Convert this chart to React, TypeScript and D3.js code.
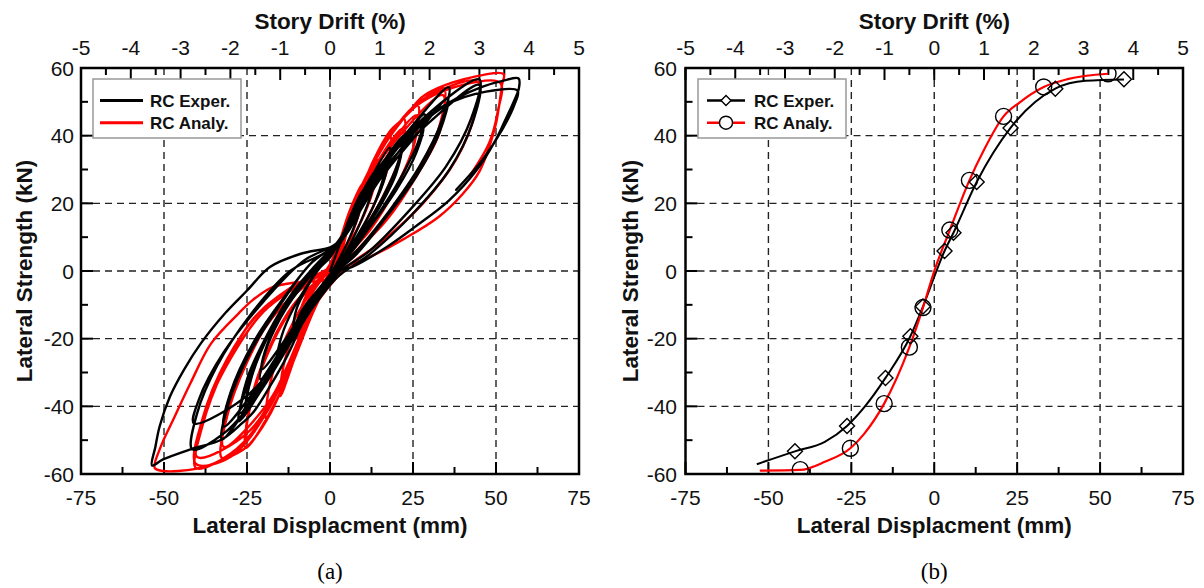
import React from 'react';
import * as d3 from 'd3';

// ---------- axis ticks ----------
const dispTicks = [-75, -50, -25, 0, 25, 50, 75];
const dispMinor = [-62.5, -37.5, -12.5, 12.5, 37.5, 62.5];
const forceTicks = [-60, -40, -20, 0, 20, 40, 60];
const forceMinor = [-50, -30, -10, 10, 30, 50];
const driftTicks = [-5, -4, -3, -2, -1, 0, 1, 2, 3, 4, 5];
const driftMinor = [-4.5, -3.5, -2.5, -1.5, -0.5, 0.5, 1.5, 2.5, 3.5, 4.5];
const gridDisp = [-50, -25, 0, 25, 50];
const gridForce = [-40, -20, 0, 20, 40];

// ---------- panel (a): hysteresis cycles [disp mm, force kN] ----------
const expCycles: [number, number][][] = [
  [[0, 0], [3, 8], [6, 16], [10, 24], [9, 18], [6, 10], [3, 4], [0, -1], [-4, -6], [-8, -11], [-11, -16.5], [-10, -11], [-7, -5], [-3, 1], [0, 4]],
  [[3, 9], [8, 20], [14, 30], [12.5, 23], [9, 14], [5, 6], [1, 0], [-3, -5], [-9, -14], [-13, -21], [-16, -26], [-14.5, -19], [-11, -11], [-6, -3], [-2, 3], [1, 6]],
  [[4, 10], [10, 23], [18, 36.5], [16.5, 29], [13, 19], [8, 10], [3, 2], [-1, -3], [-7, -11], [-14, -22], [-21, -32], [-19.5, -24], [-15, -14], [-9, -5], [-3, 2], [1, 6]],
  [[3, 8], [9, 20], [17.5, 33], [16, 26], [12, 17], [7, 8], [2, 1], [-2, -4], [-8, -12], [-14, -21], [-20.5, -29], [-19, -22], [-14, -12], [-8, -4], [-2, 3], [1, 6]],
  [[5, 12], [12, 26], [22.3, 40], [20.5, 32], [16, 22], [10, 12], [4, 3], [-1, -3], [-8, -13], [-17, -28], [-25.4, -41], [-23.5, -31], [-18, -18], [-11, -7], [-4, 1], [1, 6]],
  [[4, 10], [11, 23], [21.5, 37], [20, 29], [15, 19], [9, 10], [3, 2], [-2, -4], [-9, -14], [-17, -27], [-25, -38], [-23, -28], [-17, -16], [-10, -5], [-3, 2], [1, 6]],
  [[5, 12], [13, 27], [21, 38], [28.5, 46.3], [26.5, 38], [21, 27], [14, 16], [6, 5], [0, -1], [-8, -14], [-18, -31], [-27.5, -44.4], [-25.5, -35], [-20, -22], [-13, -9], [-5, 1], [1, 7]],
  [[5, 11], [13, 25], [28, 43], [26, 35], [20, 24], [12, 13], [4, 3], [-1, -3], [-9, -15], [-19, -30], [-27, -42], [-25, -32], [-19, -19], [-11, -6], [-4, 2], [1, 7]],
  [[6, 14], [14, 29], [24, 42], [35.8, 54.3], [33.5, 44], [27, 31], [18, 18], [9, 7], [1, -1], [-8, -14], [-20, -33], [-32.6, -49.8], [-30.5, -39], [-24, -24], [-15, -10], [-6, 2], [2, 8]],
  [[6, 13], [15, 27], [25, 39], [35.5, 51], [33, 41], [26, 28], [17, 16], [8, 5], [0, -2], [-9, -15], [-21, -33], [-32, -46], [-30, -36], [-23, -21], [-14, -8], [-5, 3], [2, 8]],
  [[7, 17], [16, 31], [28, 45], [45, 56.6], [42.5, 45], [35, 31], [24, 18], [12, 6], [2, -1], [-8, -15], [-22, -37], [-32, -48], [-41.5, -52.7], [-40, -42], [-34, -28], [-24, -13], [-12, 0], [1, 7]],
  [[7, 16], [17, 31], [30, 44], [45, 55], [43, 44], [36, 30], [25, 17], [12, 5], [2, -2], [-9, -16], [-24, -36], [-41, -45], [-39.5, -38], [-32, -24], [-20, -9], [-8, 3], [3, 9]],
  [[8.8, 20.8], [14, 29.6], [22.3, 39.4], [30, 46], [38, 51], [46, 54.5], [52, 56.2], [56.8, 56.9], [56.9, 54], [55.4, 50.2], [52.5, 44], [49.7, 38.4], [44, 29.6], [35.8, 20.8], [25.4, 12.9], [17.1, 7.1], [6.7, 1.2], [0.5, -0.8], [-4.7, -8.6], [-8.8, -16.5], [-13, -25.3], [-18.1, -34.1], [-23.3, -42], [-26.4, -44.9], [-32.6, -49.8], [-42, -52.7], [-50.3, -55.7], [-53.6, -57.5], [-52.6, -52], [-51.3, -45.9], [-48.2, -37.1], [-44, -29.2], [-38.9, -21.4], [-31.6, -12.5], [-24.9, -5.7], [-18.1, 1.2], [-8.8, 5.1], [0, 7], [3.6, 9]],
  [[8, 20], [20, 36], [35, 49], [47, 53], [56.5, 53.3], [55.5, 49], [52, 42], [46, 33], [38, 24]],
];

const anaCycles: [number, number][][] = [
  [[0, 0], [3, 9], [6, 18], [10, 26], [9.5, 20], [7, 12], [3, 4], [0, -1], [-3, -7], [-7, -14], [-10, -20], [-9.5, -14], [-7, -7], [-3, -2], [0, 2]],
  [[3, 9], [8, 22], [14, 33], [13.5, 26], [10, 16], [5, 7], [0, 0], [-5, -11], [-10, -24], [-15, -37], [-14, -28], [-10, -16], [-5, -6], [0, 1]],
  [[3, 9], [9, 24], [18.1, 40], [17.5, 31], [13, 19], [7, 8], [1, 0], [-5, -12], [-12, -29], [-19.2, -43.9], [-18, -33], [-13, -19], [-7, -8], [-1, 0]],
  [[3, 9], [10, 26], [16, 37], [22.3, 45], [21.5, 35], [16, 22], [9, 10], [2, 1], [-6, -14], [-16, -38], [-25.4, -52.3], [-24, -40], [-19, -25], [-12, -12], [-4, -3], [1, 2]],
  [[3, 9], [10, 25], [21.8, 42], [21, 33], [15, 20], [8, 9], [1, 0], [-7, -15], [-16, -36], [-25, -49], [-23.5, -37], [-18, -22], [-11, -10], [-3, -2], [1, 2]],
  [[4, 11], [11, 28], [19, 41], [26.4, 49], [25.5, 38], [20, 25], [12, 12], [3, 2], [-6, -13], [-17, -37], [-25, -50], [-32.6, -55.2], [-31, -43], [-25, -27], [-17, -13], [-7, -4], [1, 2]],
  [[4, 10], [12, 28], [26, 46], [25, 36], [19, 23], [11, 11], [2, 1], [-7, -15], [-18, -38], [-32, -52], [-30.5, -40], [-24, -24], [-15, -11], [-6, -3], [1, 2]],
  [[5, 13], [13, 32], [22, 45], [34.2, 54.1], [33, 43], [27, 30], [18, 17], [8, 6], [0, -1], [-8, -17], [-20, -43], [-30, -54], [-40.4, -58.2], [-38.5, -46], [-32, -29], [-23, -14], [-12, -5], [0, 1]],
  [[5, 12], [14, 31], [34, 52], [33, 41], [26, 28], [17, 15], [7, 5], [-1, -2], [-10, -22], [-24, -47], [-40, -55], [-38, -43], [-30, -26], [-20, -12], [-9, -4], [1, 2]],
  [[6, 15], [15, 35], [27, 50], [44.6, 55.9], [43.5, 46], [38, 33], [28, 20], [16, 9], [5, 1], [-5, -11], [-18, -40], [-30, -55], [-40.4, -57], [-38.5, -44], [-31, -26], [-20, -11], [-8, -3], [1, 2]],
  [[3.6, 10], [7.8, 19.8], [13, 32.5], [18.1, 41.4], [22.3, 45.3], [27.5, 51.2], [32.6, 54.1], [43, 57.3], [52.3, 58.2], [51.8, 55], [50.8, 48], [49.7, 42.4], [45.1, 29.6], [39.9, 22.7], [32.6, 15.9], [22.3, 9.5], [11.9, 4.1], [3.6, 0.7], [-2, -4], [-4.7, -10.6], [-8.8, -19.4], [-15, -36], [-20.2, -45.9], [-25.4, -52.3], [-32.6, -56], [-40.4, -58.5], [-50.3, -59.1], [-52.8, -58.2], [-51, -52], [-47.2, -43.9], [-42, -33.1], [-35.8, -21.4], [-27.5, -12.5], [-23.3, -8.6], [-17.1, -4.7], [-8.8, -3.2], [-0.5, -2.3], [3, 4]],
  [[6, 15], [12, 30], [25, 48], [40, 55], [51.3, 55.6], [50.5, 47], [48, 38], [42, 28]],
];

// ---------- panel (b): backbone curves ----------
const expBackDisp = [-53.5, -42, -33, -26.3, -21.2, -14.7, -7.2, -3.4, 3.1, 5.8, 12.8, 23, 36.5, 45.6, 57.2];
const expBackForce = [-57.1, -53.3, -50.5, -45.8, -40.4, -31.6, -19.3, -10.5, 5.9, 11.3, 26.3, 42.3, 53.9, 56.2, 56.6];
const expMarkDisp = [-42, -26.3, -14.7, -7.2, -3.4, 3.1, 5.8, 12.8, 23, 36.5, 57.2];
const expMarkForce = [-53.3, -45.8, -31.6, -19.3, -10.5, 5.9, 11.3, 26.3, 42.3, 53.9, 56.7];

const anaBackDisp = [-52.6, -40.4, -33, -25.3, -21.2, -15.1, -7.5, -3.4, 0, 4.7, 10.6, 14.9, 20.9, 25.7, 33, 40.2, 52.4];
const anaBackForce = [-59, -58.8, -56.4, -52.4, -48.2, -39.2, -22.5, -10.8, 0, 12.1, 26.8, 35.6, 45.7, 49.8, 54.4, 56.7, 58.3];
const anaMarkDisp = [-40.4, -25.3, -15.1, -7.5, -3.4, 4.7, 10.6, 20.9, 33, 52.4];
const anaMarkForce = [-58.7, -52.4, -39.2, -22.5, -10.8, 12.1, 26.8, 45.7, 54.4, 58.3];

const SANS = "'Liberation Sans', Arial, Helvetica, sans-serif";
const SERIF = "'Liberation Serif', 'Times New Roman', serif";
const TOP = 68;
const BOTTOM = 474;

type Scales = { x: d3.ScaleLinear<number, number>; y: d3.ScaleLinear<number, number> };

function Frame({ x0, x1, caption, titleX, labelRight, id, children, legend }: {
  x0: number; x1: number; caption: string; titleX: number; labelRight: number; id: string;
  children: (s: Scales) => React.ReactNode; legend: React.ReactNode;
}) {
  const x = d3.scaleLinear().domain([-75, 75]).range([x0, x1]);
  const drift = d3.scaleLinear().domain([-5, 5]).range([x0, x1]);
  const y = d3.scaleLinear().domain([-60, 60]).range([BOTTOM, TOP]);
  const cx = (x0 + x1) / 2;
  const cy = (TOP + BOTTOM) / 2;
  const major = 12;
  const minor = 7;
  return (
    <g>
      <defs>
        <clipPath id={id}>
          <rect x={x0} y={TOP} width={x1 - x0} height={BOTTOM - TOP} />
        </clipPath>
      </defs>
      {gridDisp.map((v) => (
        <line key={'gx' + v} x1={x(v)} x2={x(v)} y1={TOP} y2={BOTTOM} stroke="#222" strokeWidth={1.4} strokeDasharray="7,5" />
      ))}
      {gridForce.map((v) => (
        <line key={'gy' + v} x1={x0} x2={x1} y1={y(v)} y2={y(v)} stroke="#222" strokeWidth={1.4} strokeDasharray="7,5" />
      ))}
      {dispTicks.map((v) => (
        <line key={'bt' + v} x1={x(v)} x2={x(v)} y1={BOTTOM} y2={BOTTOM - major} stroke="#000" strokeWidth={2} />
      ))}
      {dispMinor.map((v) => (
        <line key={'bm' + v} x1={x(v)} x2={x(v)} y1={BOTTOM} y2={BOTTOM - minor} stroke="#000" strokeWidth={2} />
      ))}
      {driftTicks.map((v) => (
        <line key={'tt' + v} x1={drift(v)} x2={drift(v)} y1={TOP} y2={TOP + major} stroke="#000" strokeWidth={2} />
      ))}
      {driftMinor.map((v) => (
        <line key={'tm' + v} x1={drift(v)} x2={drift(v)} y1={TOP} y2={TOP + minor} stroke="#000" strokeWidth={2} />
      ))}
      {forceTicks.map((v) => (
        <line key={'lt' + v} x1={x0} x2={x0 + major} y1={y(v)} y2={y(v)} stroke="#000" strokeWidth={2} />
      ))}
      {forceMinor.map((v) => (
        <line key={'lm' + v} x1={x0} x2={x0 + minor} y1={y(v)} y2={y(v)} stroke="#000" strokeWidth={2} />
      ))}
      <g clipPath={`url(#${id})`}>{children({ x, y })}</g>
      <rect x={x0} y={TOP} width={x1 - x0} height={BOTTOM - TOP} fill="none" stroke="#000" strokeWidth={2.5} />
      {legend}
      <g fontFamily={SANS} fontSize={21} fill="#111">
        {dispTicks.map((v) => (
          <text key={'bl' + v} x={x(v)} y={505} textAnchor="middle">{String(v)}</text>
        ))}
        {driftTicks.map((v) => (
          <text key={'tl' + v} x={drift(v)} y={55} textAnchor="middle">{String(v)}</text>
        ))}
        {forceTicks.map((v) => (
          <text key={'ll' + v} x={labelRight} y={y(v) + 7.5} textAnchor="end">{String(v)}</text>
        ))}
      </g>
      <g fontFamily={SANS} fontSize={22.5} fontWeight="bold" fill="#111">
        <text x={cx} y={29} textAnchor="middle">Story Drift (%)</text>
        <text x={cx} y={533} textAnchor="middle">Lateral Displacment (mm)</text>
        <text transform={`translate(${titleX},${cy}) rotate(-90)`} textAnchor="middle">Lateral Strength (kN)</text>
      </g>
      <text x={cx} y={579} textAnchor="middle" fontFamily={SERIF} fontSize={23} fill="#000">{caption}</text>
    </g>
  );
}

function diamond(cx: number, cy: number, r: number) {
  return `M${cx},${cy - r}L${cx + r},${cy}L${cx},${cy + r}L${cx - r},${cy}Z`;
}

export default function App() {
  const hyst = (s: Scales) => {
    const line = d3
      .line<[number, number]>()
      .x((d) => s.x(d[0]))
      .y((d) => s.y(d[1]))
      .curve(d3.curveCatmullRom.alpha(0.5));
    return (
      <g fill="none" strokeLinejoin="round" strokeLinecap="round">
        <path d={line(anaCycles.flat()) || ''} stroke="#ff0000" strokeWidth={2.4} />
        <path d={line(expCycles.flat()) || ''} stroke="#000" strokeWidth={2.4} />
      </g>
    );
  };

  const backbone = (s: Scales) => {
    const mk = (xs: number[], ys: number[]) =>
      d3
        .line<number>()
        .x((_, i) => s.x(xs[i]))
        .y((_, i) => s.y(ys[i]))
        .curve(d3.curveMonotoneX)(xs) || '';
    return (
      <g>
        <path d={mk(expBackDisp, expBackForce)} fill="none" stroke="#000" strokeWidth={2} />
        <path d={mk(anaBackDisp, anaBackForce)} fill="none" stroke="#ff0000" strokeWidth={2.2} />
        {expMarkDisp.map((v, i) => (
          <path key={'dm' + i} d={diamond(s.x(v), s.y(expMarkForce[i]), 7.5)} fill="none" stroke="#000" strokeWidth={1.4} />
        ))}
        {anaMarkDisp.map((v, i) => (
          <circle key={'cm' + i} cx={s.x(v)} cy={s.y(anaMarkForce[i])} r={8} fill="none" stroke="#000" strokeWidth={1.4} />
        ))}
      </g>
    );
  };

  const legendA = (
    <g>
      <rect x={93} y={79} width={148} height={59} fill="#fff" stroke="#999" strokeWidth={1.5} />
      <line x1={100} x2={143} y1={100.5} y2={100.5} stroke="#000" strokeWidth={3} />
      <line x1={100} x2={143} y1={122.7} y2={122.7} stroke="#ff0000" strokeWidth={3} />
      <g fontFamily={SANS} fontSize={17} fontWeight="bold" fill="#111">
        <text x={150} y={106.5}>RC Exper.</text>
        <text x={150} y={128.7}>RC Analy.</text>
      </g>
    </g>
  );

  const legendB = (
    <g>
      <rect x={698} y={79} width={148} height={59} fill="#fff" stroke="#999" strokeWidth={1.5} />
      <line x1={707} x2={745} y1={100.5} y2={100.5} stroke="#000" strokeWidth={2.5} />
      <path d={diamond(726, 100.5, 5)} fill="#fff" stroke="#000" strokeWidth={1.4} />
      <line x1={707} x2={745} y1={122.7} y2={122.7} stroke="#ff0000" strokeWidth={2.5} />
      <circle cx={726} cy={122.7} r={6.5} fill="#fff" stroke="#000" strokeWidth={1.4} />
      <g fontFamily={SANS} fontSize={17} fontWeight="bold" fill="#111">
        <text x={754} y={106.5}>RC Exper.</text>
        <text x={754} y={128.7}>RC Analy.</text>
      </g>
    </g>
  );

  return (
    <svg
      width={1204}
      height={588}
      viewBox="0 0 1204 588"
      style={{ position: 'absolute', left: 0, top: 0, background: '#fff' }}
    >
      <rect x={0} y={0} width={1204} height={588} fill="#fff" />
      <Frame x0={81} x1={579} caption="(a)" titleX={32} labelRight={74} id="clipA" legend={legendA}>
        {hyst}
      </Frame>
      <Frame x0={685.5} x1={1183} caption="(b)" titleX={638} labelRight={677} id="clipB" legend={legendB}>
        {backbone}
      </Frame>
    </svg>
  );
}
